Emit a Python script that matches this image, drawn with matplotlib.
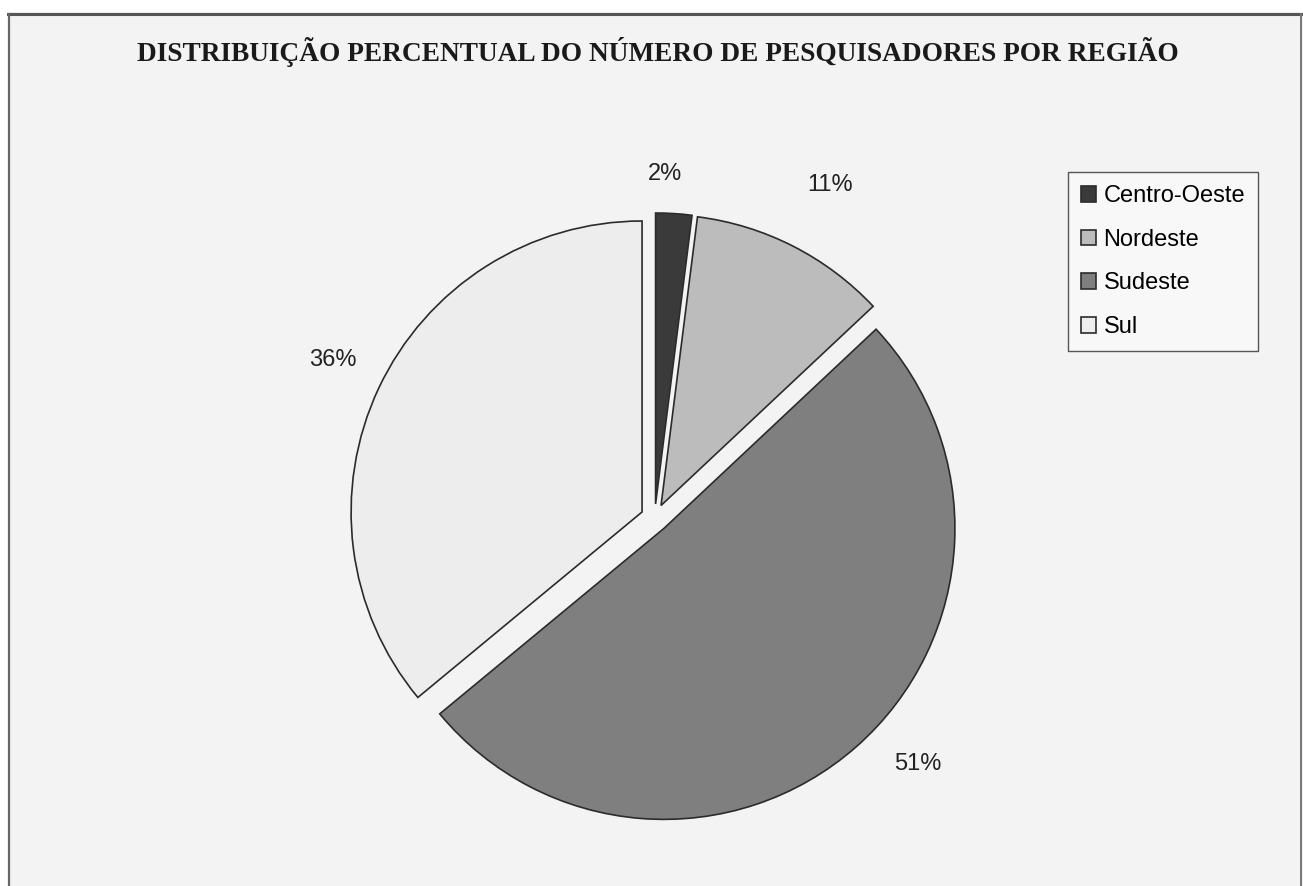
import matplotlib.pyplot as plt
from matplotlib.patches import Rectangle
from matplotlib.lines import Line2D

# Data
regioes = ['Centro-Oeste', 'Nordeste', 'Sudeste', 'Sul']
percentuais = [2, 11, 51, 36]
cores = ['#3a3a3a', '#bcbcbc', '#7f7f7f', '#ededed']

titulo = 'DISTRIBUIÇÃO PERCENTUAL DO NÚMERO DE PESQUISADORES POR REGIÃO'

W, H = 1303, 886
PX = 291.0  # pixels per data unit
fig = plt.figure(figsize=(W / 100, H / 100), dpi=100, facecolor='white')

# scanned page background + frame lines
fig.add_artist(Rectangle((8 / W, 0), 1 - 8 / W, 1 - 12 / H, transform=fig.transFigure,
                         facecolor='#f3f3f3', edgecolor='none', zorder=0))
fig.add_artist(Line2D([8 / W, 1], [1 - 14 / H, 1 - 14 / H], transform=fig.transFigure,
                      color='#555555', lw=2.2))
fig.add_artist(Line2D([9 / W, 9 / W], [0, 1 - 14 / H], transform=fig.transFigure,
                      color='#666666', lw=1.6))
fig.add_artist(Line2D([1301 / W, 1301 / W], [0, 1 - 14 / H], transform=fig.transFigure,
                      color='#777777', lw=1.4))

# axes laid over the whole figure; 1 data unit = 291 px
ax = fig.add_axes([0, 0, 1, 1])
ax.patch.set_visible(False)

wedges, _, autotexts = ax.pie(
    percentuais,
    colors=cores,
    startangle=90,
    counterclock=False,
    explode=[0.048] * len(percentuais),
    autopct=lambda p: f'{p:.0f}%',
    pctdistance=1.19,
    wedgeprops=dict(edgecolor='#2b2b2b', linewidth=1.2),
    textprops=dict(fontsize=17, family='Liberation Sans', color='#222222'),
)
ax.set_aspect('auto')
ax.set_xlim(-2.250, 2.228)
ax.set_ylim(-1.265, 1.780)
ax.axis('off')

# Excel-like label nudges (pixels: right, up)
nudges = [(-12, -16), (12, 12), (25, 24), (4, 5)]
for t, (dx, dy) in zip(autotexts, nudges):
    x, y = t.get_position()
    t.set_position((x + dx / PX, y + dy / PX))

leg = fig.legend(wedges, regioes, loc='upper left',
                 bbox_to_anchor=(1068 / W, 1 - 172 / H),
                 borderaxespad=0, fancybox=False, frameon=True,
                 prop=dict(family='Liberation Sans', size=17),
                 handlelength=0.65, handleheight=0.65, handletextpad=0.3,
                 labelspacing=0.92, borderpad=0.55)
leg.get_frame().set_edgecolor('#555555')
leg.get_frame().set_linewidth(1.0)
leg.get_frame().set_facecolor('#f8f8f8')
leg.get_frame().set_alpha(1)

fig.text(658 / W, 1 - 52 / H, titulo, ha='center', va='center',
         family='Liberation Serif', fontweight='bold', fontsize=19.7, color='#1a1a1a')

fig.savefig('out.png', dpi=100, facecolor='white')
